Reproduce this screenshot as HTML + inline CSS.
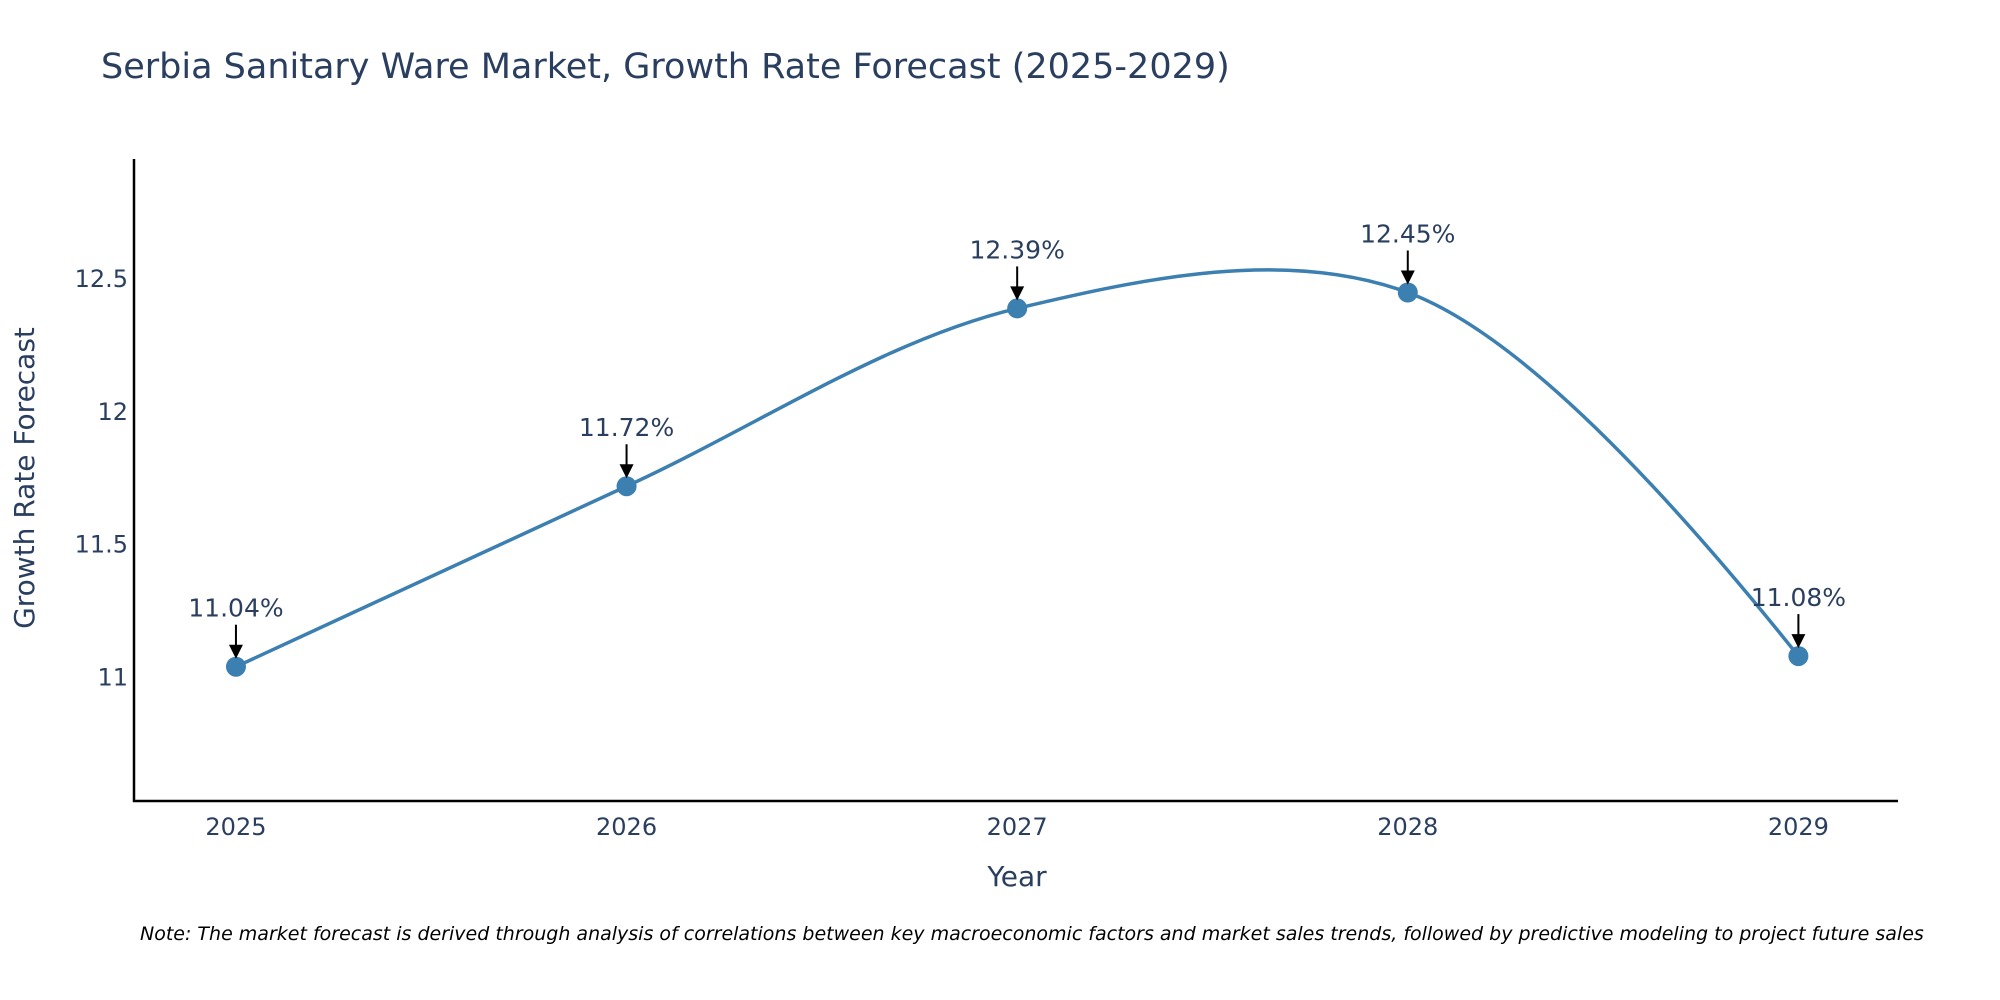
<!DOCTYPE html>
<html><head><meta charset="utf-8">
<style>
html,body{margin:0;padding:0;background:#fff;overflow:hidden;}
svg{display:block;font-family:"DejaVu Sans","Liberation Sans",sans-serif;}
</style></head>
<body>
<svg id="chart" width="2000" height="1000" viewBox="0 0 2000 1000">
<text x="101" y="78" font-size="35" fill="#2a3f5f">Serbia Sanitary Ware Market, Growth Rate Forecast (2025-2029)</text>
<g id="yticks"></g>
<g id="xticks"></g>
<path id="line" fill="none" stroke="#3c7fb1" stroke-width="3.5"></path>
<g id="points"></g>
<g id="annots"></g>
<line x1="134" y1="159" x2="134" y2="802" stroke="#000" stroke-width="2.5"/>
<line x1="133" y1="801" x2="1898" y2="801" stroke="#000" stroke-width="2.5"/>
<text x="1017" y="886" font-size="28" fill="#2a3f5f" text-anchor="middle">Year</text>
<text transform="translate(34,478) rotate(-90)" font-size="28" fill="#2a3f5f" text-anchor="middle">Growth Rate Forecast</text>
<text x="140" y="940" font-size="19" font-style="italic" fill="#000">Note: The market forecast is derived through analysis of correlations between key macroeconomic factors and market sales trends, followed by predictive modeling to project future sales</text>
</svg>
<script>
const years = [2025, 2026, 2027, 2028, 2029];
const values = [11.04, 11.72, 12.39, 12.45, 11.08];
const labels = ["11.04%", "11.72%", "12.39%", "12.45%", "11.08%"];
const yTickValues = [11, 11.5, 12, 12.5];
const yTickLabels = ["11", "11.5", "12", "12.5"];

const NS = "http://www.w3.org/2000/svg";
const X0 = 134, X1 = 1898, Y0 = 801, Y1 = 159;
const xMin = 2024.739, xMax = 2029.255, yMin = 10.534, yMax = 12.953;
function xs(v){ return X0 + (v - xMin) / (xMax - xMin) * (X1 - X0); }
function ys(v){ return Y0 - (v - yMin) / (yMax - yMin) * (Y0 - Y1); }
function mk(tag, attrs, parent){ const e = document.createElementNS(NS, tag); for (const k in attrs) e.setAttribute(k, attrs[k]); parent.appendChild(e); return e; }

const yt = document.getElementById('yticks');
yTickValues.forEach((v, i) => {
  const t = mk('text', {x: 128, y: ys(v) + 8, 'font-size': 24, fill: '#2a3f5f', 'text-anchor': 'end'}, yt);
  
  
  t.textContent = yTickLabels[i];
});
const xt = document.getElementById('xticks');
years.forEach(y => {
  const t = mk('text', {x: xs(y), y: 835, 'font-size': 24, fill: '#2a3f5f', 'text-anchor': 'middle'}, xt);
  
  
  t.textContent = String(y);
});

const pts = years.map((y, i) => [xs(y), ys(values[i])]);
function tangent(p, c, n, s){
  const d1x = p[0]-c[0], d1y = p[1]-c[1], d2x = n[0]-c[0], d2y = n[1]-c[1];
  const d1a = Math.pow(d1x*d1x + d1y*d1y, 0.25), d2a = Math.pow(d2x*d2x + d2y*d2y, 0.25);
  const nx = (d2a*d2a*d1x - d1a*d1a*d2x)*s, ny = (d2a*d2a*d1y - d1a*d1a*d2y)*s;
  const de1 = 3*d2a*(d1a+d2a), de2 = 3*d1a*(d1a+d2a);
  return [[c[0] + (de1 && nx/de1), c[1] + (de1 && ny/de1)], [c[0] - (de2 && nx/de2), c[1] - (de2 && ny/de2)]];
}
const tg = [];
for (let i = 1; i < pts.length - 1; i++) tg.push(tangent(pts[i-1], pts[i], pts[i+1], 1));
let d = 'M' + pts[0] + 'Q' + tg[0][0] + ' ' + pts[1];
for (let i = 2; i < pts.length - 1; i++) d += 'C' + tg[i-2][1] + ' ' + tg[i-1][0] + ' ' + pts[i];
d += 'Q' + tg[pts.length-3][1] + ' ' + pts[pts.length-1];
document.getElementById('line').setAttribute('d', d);

const pg = document.getElementById('points');
const ag = document.getElementById('annots');
pts.forEach((p, i) => {
  const c = mk('circle', {cx: p[0], cy: p[1], r: 10, fill: '#3c7fb1'}, pg);
  
  
  const l = mk('line', {x1: p[0], y1: p[1]-42, x2: p[0], y2: p[1]-20, stroke: '#000', 'stroke-width': 2}, ag);
  
  
  const h = mk('polygon', {points: (p[0]-7)+','+(p[1]-22)+' '+(p[0]+7)+','+(p[1]-22)+' '+p[0]+','+(p[1]-8), fill: '#000'}, ag);
  
  
  const t = mk('text', {x: p[0], y: p[1]-50, 'font-size': 25, fill: '#2a3f5f', 'text-anchor': 'middle'}, ag);
  
  
  t.textContent = labels[i];
});
</script>
</body></html>
